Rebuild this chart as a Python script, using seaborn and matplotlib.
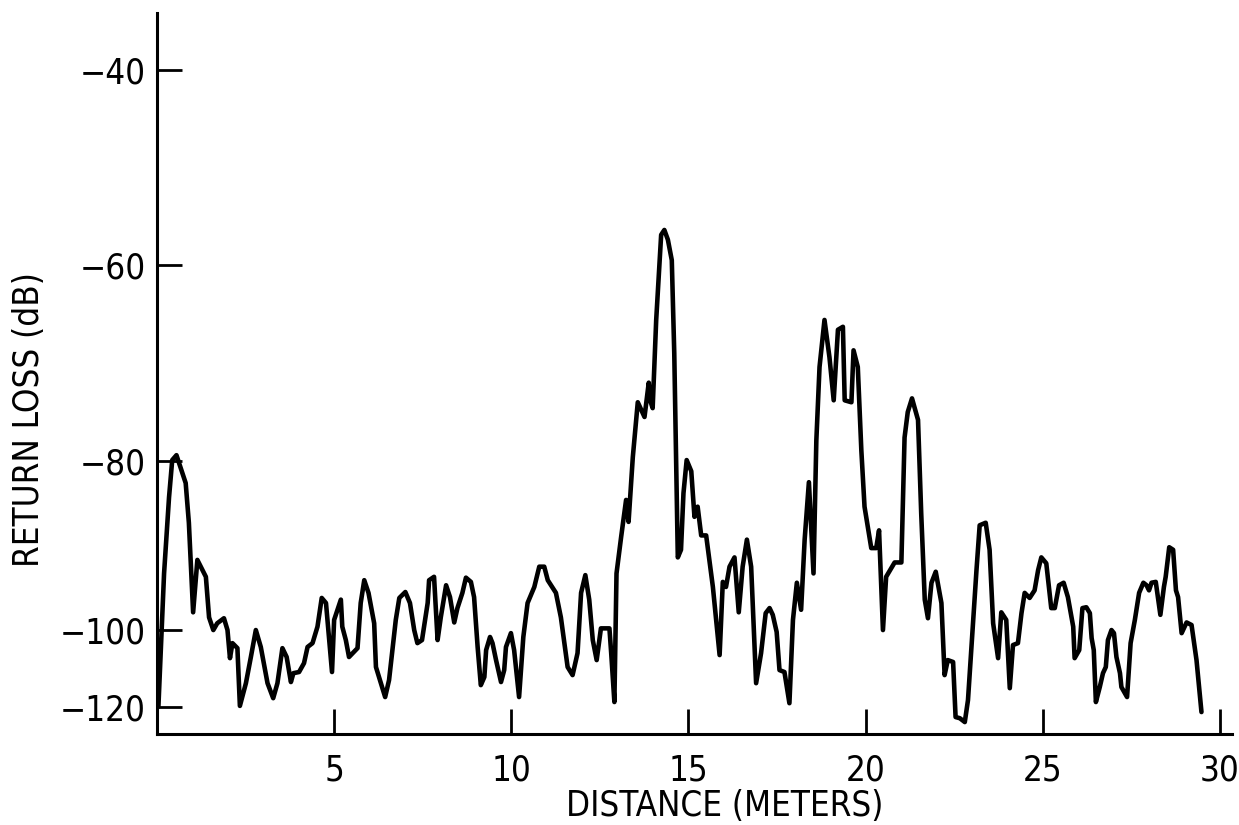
import numpy as np
import seaborn as sns
import matplotlib.pyplot as plt

# return loss trace (distance in m, level in dB)
distance_m = [
    0.04, 0.20, 0.34, 0.43, 0.55, 0.81, 0.90, 1.02, 1.14, 1.38, 1.47, 1.59, 1.70, 1.89, 1.99,
    2.06, 2.13, 2.27, 2.34, 2.51, 2.65, 2.79, 2.93, 3.12, 3.28, 3.40, 3.54, 3.66, 3.78, 3.85,
    4.01, 4.15, 4.25, 4.39, 4.53, 4.65, 4.77, 4.94, 5.00, 5.19, 5.23, 5.33, 5.42, 5.66, 5.75,
    5.85, 5.97, 6.13, 6.18, 6.32, 6.44, 6.55, 6.74, 6.84, 7.01, 7.14, 7.26, 7.35, 7.48, 7.64,
    7.68, 7.82, 7.92, 8.01, 8.16, 8.27, 8.39, 8.48, 8.62, 8.72, 8.86, 8.95, 9.05, 9.14, 9.24,
    9.29, 9.40, 9.47, 9.57, 9.71, 9.80, 9.85, 9.99, 10.08, 10.22, 10.34, 10.46, 10.65, 10.79,
    10.93, 11.03, 11.26, 11.40, 11.59, 11.73, 11.87, 11.97, 12.09, 12.20, 12.30, 12.41, 12.53,
    12.77, 12.82, 12.91, 12.97, 13.10, 13.24, 13.31, 13.43, 13.57, 13.76, 13.88, 13.92, 13.99,
    14.09, 14.23, 14.32, 14.42, 14.53, 14.60, 14.70, 14.79, 14.86, 14.95, 15.08, 15.17, 15.26,
    15.36, 15.50, 15.69, 15.88, 15.97, 16.06, 16.16, 16.30, 16.42, 16.53, 16.65, 16.77, 16.91,
    17.05, 17.18, 17.29, 17.38, 17.49, 17.57, 17.71, 17.85, 17.95, 18.06, 18.18, 18.28, 18.40,
    18.53, 18.61, 18.70, 18.84, 18.98, 19.10, 19.22, 19.36, 19.41, 19.60, 19.66, 19.78, 19.88,
    19.97, 20.16, 20.30, 20.38, 20.49, 20.58, 20.82, 21.01, 21.10, 21.19, 21.31, 21.48, 21.57,
    21.67, 21.76, 21.86, 21.98, 22.14, 22.23, 22.32, 22.47, 22.54, 22.66, 22.80, 22.89, 23.13,
    23.22, 23.39, 23.50, 23.60, 23.74, 23.83, 23.97, 24.07, 24.16, 24.30, 24.40, 24.49, 24.63,
    24.77, 24.87, 24.96, 25.10, 25.24, 25.34, 25.46, 25.59, 25.71, 25.86, 25.90, 26.03, 26.12,
    26.23, 26.33, 26.38, 26.44, 26.50, 26.61, 26.70, 26.78, 26.84, 26.94, 27.01, 27.08, 27.18,
    27.22, 27.38, 27.48, 27.60, 27.72, 27.84, 27.93, 28.00, 28.07, 28.19, 28.32, 28.42, 28.47,
    28.57, 28.68, 28.76, 28.82, 28.92, 29.06, 29.20, 29.34, 29.48,
]
return_loss_db = [
    -119.9, -93.3, -84.3, -79.9, -79.4, -82.6, -87.3, -97.9, -91.7, -93.7, -98.5, -100.0, -99.2, -98.6, -100.0,
    -107.3, -103.4, -104.7, -119.7, -113.8, -107.0, -100.0, -104.4, -113.8, -117.7, -113.8, -104.7, -107.0, -113.5, -111.2,
    -110.9, -108.6, -104.4, -103.4, -99.6, -96.2, -96.8, -110.9, -98.8, -96.4, -99.6, -102.6, -107.0, -104.7, -96.8,
    -94.1, -95.6, -99.2, -109.6, -113.8, -117.4, -113.0, -98.8, -96.2, -95.5, -96.8, -100.0, -103.4, -102.6, -96.8,
    -94.1, -93.7, -102.6, -98.5, -94.7, -96.1, -99.1, -97.4, -95.6, -93.8, -94.3, -96.1, -104.4, -114.3, -112.2,
    -105.2, -101.8, -103.4, -107.8, -113.5, -110.4, -104.4, -100.8, -105.2, -117.4, -101.8, -96.8, -94.9, -92.5,
    -92.5, -94.1, -95.6, -98.5, -109.6, -111.7, -106.0, -95.6, -93.5, -96.4, -102.6, -107.8, -99.8,
    -99.8, -106.0, -118.7, -93.3, -89.0, -84.6, -87.2, -79.6, -74.0, -75.5, -72.0, -73.8, -74.6,
    -65.6, -56.9, -56.4, -57.4, -59.5, -69.0, -91.4, -90.5, -83.8, -79.9, -81.2, -86.6, -85.4,
    -88.8, -88.8, -94.9, -106.5, -94.3, -94.9, -92.5, -91.4, -97.9, -92.5, -89.3, -92.5, -113.8,
    -106.0, -98.0, -97.4, -98.2, -100.5, -110.4, -110.9, -119.0, -98.8, -94.4, -97.6, -89.3, -82.5,
    -93.3, -77.9, -70.4, -65.6, -69.4, -73.8, -66.6, -66.3, -73.8, -74.0, -68.7, -70.4, -78.9,
    -85.4, -90.3, -90.3, -88.2, -100.0, -93.7, -92.0, -92.0, -77.6, -75.0, -73.6, -75.8, -86.2,
    -96.4, -98.6, -94.4, -93.1, -96.8, -111.7, -107.8, -108.3, -122.6, -122.9, -123.9, -118.2, -92.9,
    -87.6, -87.3, -90.5, -99.2, -107.3, -97.9, -98.8, -115.1, -103.9, -103.4, -98.0, -95.6, -96.2,
    -95.3, -92.9, -91.4, -92.1, -97.4, -97.4, -94.7, -94.4, -96.1, -99.6, -107.3, -105.2, -97.4,
    -97.3, -98.0, -102.1, -105.2, -118.7, -114.8, -111.2, -109.6, -102.6, -100.0, -100.8, -107.0, -111.2,
    -114.8, -117.4, -103.4, -98.8, -95.6, -94.4, -94.7, -95.3, -94.4, -94.3, -98.2, -94.9, -93.7,
    -90.2, -90.5, -95.3, -96.1, -100.8, -99.1, -99.4, -107.8, -121.3,
]

x_ticks = [5, 10, 15, 20, 25, 30]
y_ticks = [-40, -60, -80, -100, -120]

# the printed dB axis is not evenly spaced; map it piecewise
scale_db = [-140, -120, -100, -80, -60, -40, -20]
scale_pos = [-50, 27, 104, 273, 469, 664, 859]


def fwd(v):
    return np.interp(v, scale_db, scale_pos)


def inv(p):
    return np.interp(p, scale_pos, scale_db)


sns.set_style("ticks")
plt.rcParams["font.family"] = ["DejaVu Sans"]
plt.rcParams["font.stretch"] = "condensed"
plt.rcParams["text.color"] = "black"

fig = plt.figure(figsize=(12.39, 8.25), dpi=100)
ax = fig.add_axes([0.1267, 0.1103, 0.8676, 0.8739])

sns.lineplot(x=distance_m, y=return_loss_db, ax=ax, color="black",
             linewidth=3.3, estimator=None, sort=False)

ax.set_yscale("function", functions=(fwd, inv))
ax.set_xlim(0, 30.34)
ax.set_ylim(-127, -34.15)
ax.set_xticks(x_ticks)
ax.set_yticks(y_ticks)
ax.set_xticklabels([str(t) for t in x_ticks])
ax.set_yticklabels([f"\u2212{abs(t)}" for t in y_ticks])
ax.minorticks_off()

sns.despine(ax=ax)
for side in ["left", "bottom"]:
    ax.spines[side].set_linewidth(2.2)
    ax.spines[side].set_color("black")

ax.tick_params(axis="both", direction="in", length=18, width=2.0,
               color="black", labelsize=25, labelcolor="black")
ax.tick_params(axis="y", pad=8)
ax.tick_params(axis="x", pad=14)

ax.set_xlabel("DISTANCE (METERS)", fontsize=25, color="black")
ax.set_ylabel("RETURN LOSS (dB)", fontsize=25, color="black")
ax.xaxis.set_label_coords(0.528, -0.076)
ax.yaxis.set_label_coords(-0.103, 0.4355)

fig.savefig("out.png", dpi=100)
